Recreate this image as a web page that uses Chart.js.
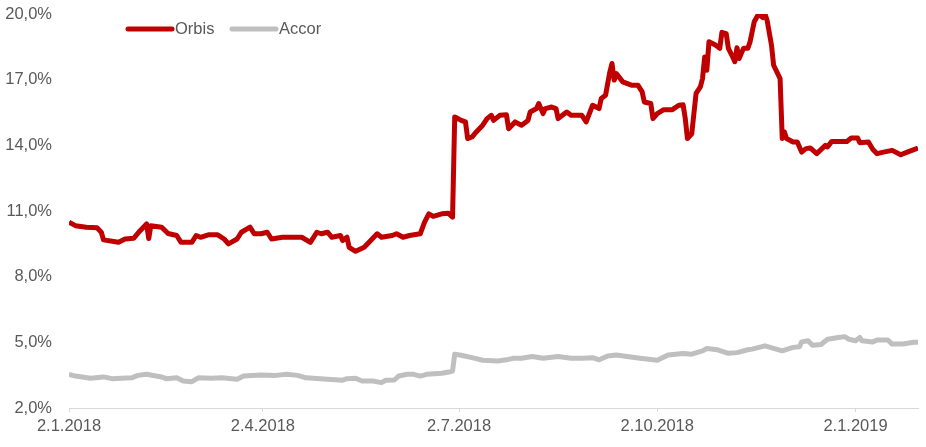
<!DOCTYPE html>
<html>
<head>
<meta charset="utf-8">
<script src="https://cdn.jsdelivr.net/npm/chart.js@4/dist/chart.umd.min.js"></script>
<style>
  html, body { margin: 0; padding: 0; background: #fff; }
  #wrap { width: 926px; height: 447px; position: relative; }
</style>
</head>
<body>
<div id="wrap"><canvas id="chart"></canvas></div>
<script>
// days counted from 2.1.2018
var tickDays = [0, 90, 181, 273, 365];
var tickLabels = ["2.1.2018", "2.4.2018", "2.7.2018", "2.10.2018", "2.1.2019"];

var orbisDay = [0, 3, 8, 13, 15, 16, 20, 23, 26, 30, 33, 36, 37, 38, 43, 46, 50, 52, 57, 59,
  61, 65, 69, 72, 74, 78, 80, 84, 86, 89, 92, 94, 99, 103, 108, 112, 115, 117, 120, 122,
  126, 127, 129, 130, 133, 137, 140, 143, 145, 150, 152, 155, 158, 163, 165, 167, 169, 173, 176, 178,
  179, 180, 182, 184, 185, 187, 189, 192, 194, 196, 197, 200, 203, 204, 207, 210, 213, 214, 217, 218,
  220, 221, 224, 226, 227, 230, 231, 233, 238, 240, 243, 246, 247, 249, 251, 252, 253, 254, 257, 261,
  264, 266, 267, 270, 271, 273, 276, 280, 283, 285, 286, 287, 289, 291, 293, 294, 295, 296, 297, 300,
  302, 303, 305, 306, 308, 309, 310, 311, 313, 315, 316, 318, 320, 322, 323, 324, 326, 327, 330, 331,
  332, 333, 336, 338, 340, 342, 344, 347, 351, 352, 354, 361, 363, 366, 367, 371, 373, 375, 378, 382,
  386, 389, 394];
var orbis = [10.49, 10.33, 10.26, 10.23, 10.03, 9.68, 9.62, 9.57, 9.72, 9.75, 10.1, 10.41, 9.74, 10.33, 10.26, 9.97, 9.88, 9.57, 9.57, 9.88,
  9.8, 9.92, 9.91, 9.72, 9.5, 9.72, 10.03, 10.26, 9.96, 9.96, 10.03, 9.72, 9.8, 9.8, 9.8, 9.57, 10.03, 9.96, 10.03, 9.8,
  9.88, 9.65, 9.8, 9.34, 9.16, 9.34, 9.65, 9.96, 9.8, 9.88, 9.96, 9.8, 9.88, 9.96, 10.49, 10.87, 10.75, 10.87, 10.9, 10.72,
  15.3, 15.25, 15.14, 15.07, 14.31, 14.38, 14.61, 14.92, 15.22, 15.37, 15.14, 15.37, 15.4, 14.76, 15.07, 14.92, 15.14, 15.52, 15.68, 15.91,
  15.45, 15.68, 15.75, 15.68, 15.22, 15.45, 15.52, 15.37, 15.37, 15.07, 15.83, 15.68, 16.14, 16.29, 17.36, 17.74, 16.98, 17.28, 16.9, 16.75,
  16.75, 16.44, 15.98, 15.91, 15.22, 15.45, 15.63, 15.63, 15.83, 15.85, 15.22, 14.31, 14.53, 16.37, 16.67, 17.05, 18.04, 17.43, 18.73, 18.58,
  18.43, 19.16, 19.1, 18.43, 18.04, 17.82, 18.46, 17.97, 18.43, 18.43, 18.7, 19.65, 20.0, 19.83, 20.0, 19.7, 18.58, 17.66, 17.05, 14.31,
  14.61, 14.31, 14.15, 14.15, 13.69, 13.85, 13.88, 13.62, 14.0, 13.93, 14.18, 14.18, 14.33, 14.33, 14.12, 14.15, 13.82, 13.62, 13.69, 13.77,
  13.57, 13.69, 13.88];

var accorDay = [0, 3, 10, 16, 20, 29, 32, 36, 43, 45, 50, 53, 57, 60, 66, 71, 78, 81, 89, 96,
  101, 106, 110, 120, 127, 129, 133, 136, 141, 145, 147, 151, 153, 157, 160, 163, 166, 173, 177, 178,
  179, 182, 187, 192, 199, 203, 206, 210, 215, 220, 227, 233, 238, 243, 246, 250, 254, 259, 265, 273,
  278, 285, 289, 294, 296, 301, 306, 310, 315, 317, 323, 327, 331, 336, 339, 340, 343, 345, 349, 352,
  357, 360, 362, 365, 367, 368, 373, 375, 380, 382, 387, 392, 394];
var accor = [3.54, 3.46, 3.36, 3.42, 3.34, 3.38, 3.49, 3.54, 3.42, 3.34, 3.38, 3.23, 3.2, 3.38, 3.36, 3.38, 3.31, 3.46, 3.51, 3.49,
  3.54, 3.49, 3.38, 3.31, 3.27, 3.34, 3.36, 3.23, 3.23, 3.16, 3.27, 3.28, 3.46, 3.54, 3.54, 3.46, 3.54, 3.59, 3.66, 3.69,
  4.46, 4.41, 4.3, 4.18, 4.15, 4.2, 4.27, 4.27, 4.35, 4.27, 4.35, 4.27, 4.27, 4.3, 4.2, 4.38, 4.42, 4.35, 4.27, 4.18,
  4.42, 4.49, 4.46, 4.61, 4.72, 4.66, 4.5, 4.53, 4.66, 4.69, 4.84, 4.72, 4.61, 4.77, 4.8, 5.02, 5.07, 4.87, 4.9, 5.14,
  5.22, 5.26, 5.14, 5.07, 5.22, 5.07, 5.02, 5.11, 5.11, 4.92, 4.92, 5.0, 5.0];

var textColor = "#595959";
var axisColor = "#D9D9D9";
var fontFamily = "'Liberation Sans', Arial, sans-serif";

function toPoints(days, vals) {
  var pts = [];
  for (var i = 0; i < days.length; i++) pts.push({ x: days[i], y: vals[i] });
  return pts;
}

// legend drawn inside the plot, like the original
var insideLegend = {
  id: "insideLegend",
  afterDraw: function (chart) {
    var ctx = chart.ctx;
    var x = 128, y = 29;
    ctx.save();
    ctx.font = "16.5px " + fontFamily;
    ctx.textBaseline = "middle";
    chart.data.datasets.forEach(function (ds) {
      ctx.strokeStyle = ds.borderColor;
      ctx.lineWidth = 5;
      ctx.lineCap = "round";
      ctx.beginPath();
      ctx.moveTo(x, y);
      ctx.lineTo(x + 44, y);
      ctx.stroke();
      ctx.fillStyle = textColor;
      ctx.fillText(ds.label, x + 47, y);
      x += 104;
    });
    ctx.restore();
  }
};

var ctx = document.getElementById("chart").getContext("2d");
var chart = new Chart(ctx, {
  type: "line",
  data: {
    datasets: [
      {
        label: "Orbis",
        data: toPoints(orbisDay, orbis),
        borderColor: "#C00000",
        borderWidth: 5,
        pointRadius: 0,
        borderJoinStyle: "round",
        tension: 0,
      },
      {
        label: "Accor",
        data: toPoints(accorDay, accor),
        borderColor: "#BFBFBF",
        borderWidth: 5,
        pointRadius: 0,
        borderJoinStyle: "round",
        tension: 0,
      },
    ],
  },
  options: {
    responsive: true,
    maintainAspectRatio: false,
    animation: false,
    layout: { padding: { top: 14, right: 8, left: 0, bottom: 0 } },
    plugins: {
      legend: { display: false },
      tooltip: { enabled: false },
    },
    scales: {
      x: {
        type: "linear",
        min: 0,
        max: 394,
        afterBuildTicks: function (scale) {
          scale.ticks = tickDays.map(function (d) { return { value: d }; });
        },
        afterFit: function (scale) {
          scale.height = 39;
          scale.paddingLeft = 0;
          scale.paddingRight = 0;
        },
        grid: { display: true, drawOnChartArea: false, drawTicks: true, tickLength: 4, color: axisColor },
        border: { display: true, color: axisColor, width: 1 },
        ticks: {
          autoSkip: false,
          maxRotation: 0,
          padding: 5,
          color: textColor,
          font: { family: fontFamily, size: 16.5 },
          callback: function (value) {
            var i = tickDays.indexOf(value);
            return i >= 0 ? tickLabels[i] : "";
          },
        },
      },
      y: {
        min: 2,
        max: 20,
        afterFit: function (scale) {
          scale.width = 69;
          scale.paddingTop = 0;
          scale.paddingBottom = 0;
        },
        grid: { display: false, drawTicks: false },
        border: { display: false },
        ticks: {
          stepSize: 3,
          padding: 17,
          color: textColor,
          font: { family: fontFamily, size: 16.5 },
          callback: function (value) {
            return value.toFixed(1).replace(".", ",") + "%";
          },
        },
      },
    },
  },
  plugins: [insideLegend],
});
</script>
</body>
</html>
